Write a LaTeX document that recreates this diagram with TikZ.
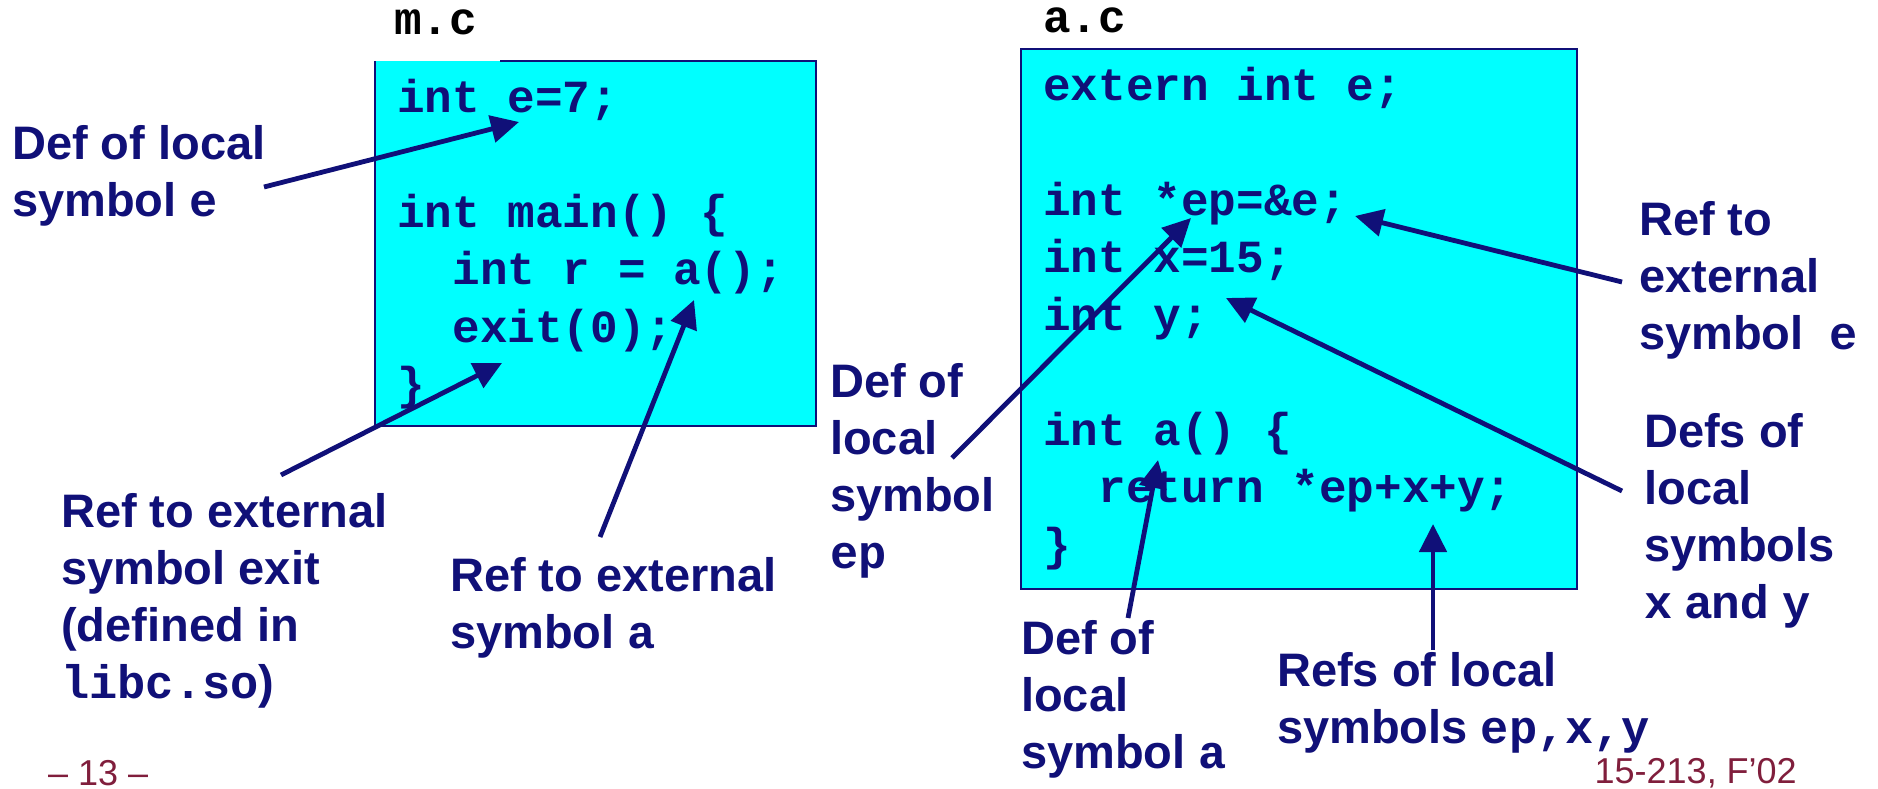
\documentclass[tikz,border=0pt]{standalone}
\usepackage{fontspec}
\setmainfont{Liberation Sans}
\newfontfamily\codefont{Liberation Mono}
\usetikzlibrary{arrows.meta}
\definecolor{navy}{RGB}{16,16,120}
\definecolor{maroon}{RGB}{128,30,60}
\definecolor{codebg}{RGB}{0,255,255}
\newcommand{\cd}[1]{{\codefont #1}}

\begin{document}
\begin{tikzpicture}[x=1pt, y=-1pt,
    lbl/.style={anchor=base west, inner sep=0pt, align=left, text=navy,
        font=\bfseries\fontsize{47}{57}\selectfont},
    code/.style={anchor=base west, inner sep=0pt, align=left, text=navy,
        font=\codefont\bfseries\fontsize{46}{57.5}\selectfont},
    fname/.style={anchor=base west, inner sep=0pt,
        font=\codefont\bfseries\fontsize{46}{57.5}\selectfont},
    pnum/.style={inner sep=0pt, text=maroon, font=\fontsize{36}{40}\selectfont},
    ptr/.style={navy, line width=4.8pt, -{Triangle[length=28pt,width=27pt]}}]
    \useasboundingbox (0,0) rectangle (1878,789);

    % source files (nodes sit on the baseline of their last line)
    \fill[codebg] (375,61) rectangle (816,426);
    \draw[navy, line width=1.5pt] (500,61) -| (816,426) -| (375,61);
    \fill[codebg, draw=navy, line width=1.5pt] (1021,49) rectangle (1577,589);

    \node[fname] (mname) at (394,35) {m.c};
    \node[fname] (aname) at (1043,33) {a.c};

    \node[code] (mcode) at (397,399.5) {int e=7;\\ \\int main() \{\\\ \ int r = a();\\\ \ exit(0);\\\}};
    \node[code] (acode) at (1043,560) {extern int e;\\ \\int *ep=\&e;\\int x=15;\\int y;\\ \\int a() \{\\\ \ return *ep+x+y;\\\}};

    % labels
    \node[lbl] (ldefe) at (12,216) {Def of local\\symbol \cd{e}};
    \node[lbl] (lrefexit) at (61,698) {Ref to external\\symbol exit\\(defined in\\\cd{libc.so})};
    \node[lbl] (lrefa) at (450,648) {Ref to external\\symbol \cd{a}};
    \node[lbl] (ldefep) at (830,568) {Def of\\local\\symbol\\\cd{ep}};
    \node[lbl] (lrefe) at (1639,349) {Ref to\\external\\symbol\ \ \cd{e}};
    \node[lbl] (ldefxy) at (1644,618) {Defs of\\local\\symbols\\\cd{x} and \cd{y}};
    \node[lbl] (ldefa) at (1021,768) {Def of\\local\\symbol \cd{a}};
    \node[lbl] (lrefs) at (1277,743) {Refs of local\\symbols \cd{ep,x,y}};

    \node[pnum, anchor=base west] (page) at (48,785) {– 13 –};
    \node[pnum, anchor=base east] (course) at (1797,783) {15-213, F’02};

    % arrow ends
    \coordinate (te) at (264,187);   \coordinate (he) at (519,122);
    \coordinate (tx) at (281,475);   \coordinate (hx) at (502,363);
    \coordinate (ta) at (600,537);   \coordinate (ha) at (694,300);
    \coordinate (tp) at (952,458);   \coordinate (hp) at (1191,218);
    \coordinate (tr) at (1622,282);  \coordinate (hr) at (1355,216);
    \coordinate (ty) at (1622,491);  \coordinate (hy) at (1226,298);
    \coordinate (tf) at (1128,618);  \coordinate (hf) at (1158,460);
    \coordinate (ts) at (1433,650);  \coordinate (hs) at (1433,524);

    \draw
    (te) edge[ptr] (he)
    (tx) edge[ptr] (hx)
    (ta) edge[ptr] (ha)
    (tp) edge[ptr] (hp)
    (tr) edge[ptr] (hr)
    (ty) edge[ptr] (hy)
    (tf) edge[ptr] (hf)
    (ts) edge[ptr] (hs);
\end{tikzpicture}
\end{document}
